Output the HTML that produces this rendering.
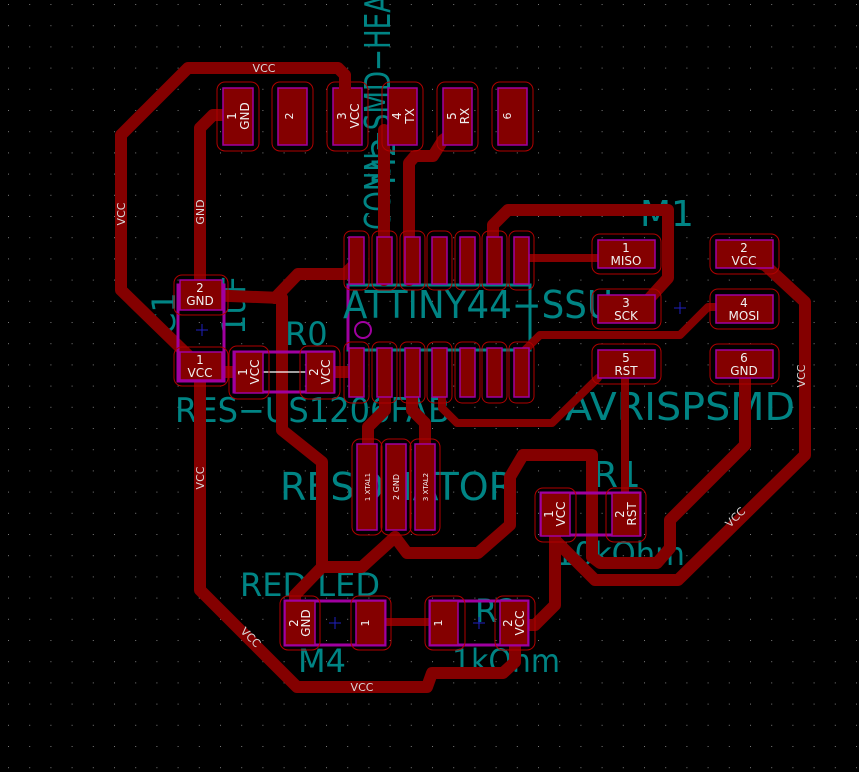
<!DOCTYPE html>
<html><head><meta charset="utf-8"><style>
html,body{margin:0;padding:0;background:#000;}
svg{display:block;}
text{font-family:"DejaVu Sans","Liberation Sans",sans-serif;}
</style></head><body>
<svg width="859" height="772" viewBox="0 0 859 772" xmlns="http://www.w3.org/2000/svg">
<defs>
<pattern id="g" x="8" y="4" width="21.2" height="21.2" patternUnits="userSpaceOnUse">
<rect x="0" y="0" width="1" height="1" fill="#7a7a7a"/>
</pattern>
</defs>
<rect width="859" height="772" fill="#000"/>
<rect width="859" height="772" fill="url(#g)"/>

<g fill="none" stroke="#008484" stroke-width="3">
<rect x="348" y="285" width="182" height="65" stroke-width="3"/>
<line x1="348" y1="285" x2="348" y2="350" stroke="#a000a0"/>
</g>
<g fill="#008484" font-family="'DejaVu Sans',sans-serif">
<text x="343" y="318" font-size="38" textLength="270" lengthAdjust="spacingAndGlyphs">ATTINY44−SSU</text>
<text x="175" y="422" font-size="34" textLength="275" lengthAdjust="spacingAndGlyphs">RES−US1206FAB</text>
<text x="280" y="500" font-size="38" textLength="235" lengthAdjust="spacingAndGlyphs">RESONATOR</text>
<text x="565" y="420" font-size="38" textLength="230" lengthAdjust="spacingAndGlyphs">AVRISPSMD</text>
<text x="640" y="226" font-size="36">M1</text>
<text x="593" y="487" font-size="36">R1</text>
<text x="555" y="565" font-size="32" textLength="130" lengthAdjust="spacingAndGlyphs">10kOhm</text>
<text x="240" y="596" font-size="32" textLength="140" lengthAdjust="spacingAndGlyphs">RED LED</text>
<text x="298" y="672" font-size="32">M4</text>
<text x="475" y="622" font-size="32">R2</text>
<text x="452" y="672" font-size="32" textLength="108" lengthAdjust="spacingAndGlyphs">1kOhm</text>
<text x="285" y="345" font-size="32">R0</text>
<text transform="translate(245,335) rotate(-90)" font-size="32">1uF</text>
<text transform="translate(175,335) rotate(-90)" font-size="32">C1</text>
<text transform="translate(390,230) rotate(-90)" font-size="36" textLength="235" lengthAdjust="spacingAndGlyphs">CONN−SMD−HEA</text>
<text transform="translate(395,185) rotate(-90)" font-size="32">M2</text>
</g>
<circle cx="363" cy="330" r="8" fill="none" stroke="#a000a0" stroke-width="2"/>

<g fill="none" stroke="#840000" stroke-width="12" stroke-linejoin="round" stroke-linecap="round">
<polyline points="345,90 345,75 338,68 188,68 121,135 121,290 195,362 200,368"/>
<polyline points="228,115 213,115 200,128 200,300"/>
<polyline points="205,295 282,298"/>
<polyline points="275,298 298,274 345,274 357,262"/>
<polyline points="282,298 282,430 322,462 322,567 362,567 395,537"/>
<polyline points="322,567 295,595 295,615"/>
<polyline points="395,537 407,553 478,553 510,525 510,477 523,455 592,455 592,557 600,563 657,563 670,548 670,520 745,445 745,365"/>
<polyline points="745,260 765,265 805,302 805,455 678,580 595,580 555,540 555,520"/>
<polyline points="555,520 555,605 535,625 518,625"/>
<polyline points="515,625 515,662 503,673 432,673 427,687 297,687 200,590 200,370"/>
<polyline points="200,372 240,372"/>
<polyline points="355,372 325,372"/>
<polyline points="384,130 384,280"/>
<polyline points="457,130 443,140 433,156 415,156 409,163 409,280"/>
<polyline points="493,245 493,225 508,210 668,210 668,278 648,300"/>
<polyline points="521,258 600,258" stroke-width="8"/>
<polyline points="523,352 540,335 680,335 708,307 720,307" stroke-width="8"/>
<polyline points="442,395 442,408 457,423 552,423 598,378" stroke-width="8"/>
<polyline points="625,365 625,515" stroke-width="8"/>
<polyline points="385,395 385,410 368,427 368,450"/>
<polyline points="412,395 412,410 425,423 425,450"/>
<polyline points="380,622 440,622" stroke-width="8"/>
</g>
<line x1="258" y1="372" x2="318" y2="372" stroke="#fff" stroke-width="1.2"/>

<g stroke-width="1.5">
<g fill="#840000" stroke="#a000a0">
<rect x="223" y="88" width="30" height="57"/><rect x="278" y="88" width="29" height="57"/>
<rect x="333" y="88" width="29" height="57"/><rect x="388" y="88" width="29" height="57"/>
<rect x="443" y="88" width="29" height="57"/><rect x="498" y="88" width="29" height="57"/>
</g>
<g fill="none" stroke="#b00000" stroke-width="1">
<rect x="217" y="82" width="42" height="69" rx="8"/><rect x="272" y="82" width="41" height="69" rx="8"/>
<rect x="327" y="82" width="41" height="69" rx="8"/><rect x="382" y="82" width="41" height="69" rx="8"/>
<rect x="437" y="82" width="41" height="69" rx="8"/><rect x="492" y="82" width="41" height="69" rx="8"/>
</g>
<g fill="#840000" stroke="#a000a0">
<rect x="349" y="237" width="15" height="47"/><rect x="377" y="237" width="15" height="47"/><rect x="405" y="237" width="15" height="47"/><rect x="432" y="237" width="15" height="47"/><rect x="460" y="237" width="15" height="47"/><rect x="487" y="237" width="15" height="47"/><rect x="514" y="237" width="15" height="47"/>
<rect x="349" y="348" width="15" height="49"/><rect x="377" y="348" width="15" height="49"/><rect x="405" y="348" width="15" height="49"/><rect x="432" y="348" width="15" height="49"/><rect x="460" y="348" width="15" height="49"/><rect x="487" y="348" width="15" height="49"/><rect x="514" y="348" width="15" height="49"/>
</g>
<g fill="none" stroke="#b00000" stroke-width="1">
<rect x="344" y="231" width="25" height="59" rx="7"/><rect x="372" y="231" width="25" height="59" rx="7"/><rect x="400" y="231" width="25" height="59" rx="7"/><rect x="427" y="231" width="25" height="59" rx="7"/><rect x="455" y="231" width="25" height="59" rx="7"/><rect x="482" y="231" width="25" height="59" rx="7"/><rect x="509" y="231" width="25" height="59" rx="7"/>
<rect x="344" y="342" width="25" height="61" rx="7"/><rect x="372" y="342" width="25" height="61" rx="7"/><rect x="400" y="342" width="25" height="61" rx="7"/><rect x="427" y="342" width="25" height="61" rx="7"/><rect x="455" y="342" width="25" height="61" rx="7"/><rect x="482" y="342" width="25" height="61" rx="7"/><rect x="509" y="342" width="25" height="61" rx="7"/>
</g>
<g fill="#840000" stroke="#a000a0">
<rect x="598" y="240" width="57" height="28"/><rect x="716" y="240" width="57" height="28"/>
<rect x="598" y="295" width="57" height="28"/><rect x="716" y="295" width="57" height="28"/>
<rect x="598" y="350" width="57" height="28"/><rect x="716" y="350" width="57" height="28"/>
</g>
<g fill="none" stroke="#b00000" stroke-width="1">
<rect x="592" y="234" width="69" height="40" rx="8"/><rect x="710" y="234" width="69" height="40" rx="8"/>
<rect x="592" y="289" width="69" height="40" rx="8"/><rect x="710" y="289" width="69" height="40" rx="8"/>
<rect x="592" y="344" width="69" height="40" rx="8"/><rect x="710" y="344" width="69" height="40" rx="8"/>
</g>
<rect x="178" y="285" width="46" height="96" fill="none" stroke="#a000a0" stroke-width="3"/>
<g fill="#840000" stroke="#a000a0"><rect x="180" y="280" width="42" height="30"/><rect x="180" y="352" width="42" height="28"/></g>
<g fill="none" stroke="#b00000" stroke-width="1"><rect x="174" y="275" width="54" height="40" rx="8"/><rect x="174" y="347" width="54" height="39" rx="8"/></g>
<rect x="234" y="352" width="100" height="40" fill="none" stroke="#a000a0" stroke-width="3"/>
<g fill="#840000" stroke="#a000a0"><rect x="235" y="352" width="28" height="41"/><rect x="306" y="352" width="28" height="41"/></g>
<g fill="none" stroke="#b00000" stroke-width="1"><rect x="229" y="346" width="40" height="53" rx="8"/><rect x="300" y="346" width="40" height="53" rx="8"/></g>
<g fill="#840000" stroke="#a000a0"><rect x="357" y="444" width="20" height="86"/><rect x="386" y="444" width="20" height="86"/><rect x="415" y="444" width="20" height="86"/></g>
<g fill="none" stroke="#b00000" stroke-width="1"><rect x="352" y="439" width="30" height="96" rx="8"/><rect x="381" y="439" width="30" height="96" rx="8"/><rect x="410" y="439" width="30" height="96" rx="8"/></g>
<rect x="541" y="493" width="99" height="42" fill="none" stroke="#a000a0" stroke-width="3"/>
<g fill="#840000" stroke="#a000a0"><rect x="541" y="493" width="29" height="43"/><rect x="612" y="493" width="28" height="43"/></g>
<g fill="none" stroke="#b00000" stroke-width="1"><rect x="535" y="488" width="41" height="54" rx="8"/><rect x="606" y="488" width="40" height="54" rx="8"/></g>
<rect x="285" y="601" width="100" height="44" fill="none" stroke="#a000a0" stroke-width="3"/>
<g fill="#840000" stroke="#a000a0"><rect x="285" y="601" width="30" height="44"/><rect x="356" y="601" width="29" height="44"/></g>
<g fill="none" stroke="#b00000" stroke-width="1"><rect x="280" y="596" width="40" height="54" rx="8"/><rect x="351" y="596" width="40" height="54" rx="8"/></g>
<rect x="430" y="601" width="98" height="44" fill="none" stroke="#a000a0" stroke-width="3"/>
<g fill="#840000" stroke="#a000a0"><rect x="430" y="601" width="28" height="44"/><rect x="500" y="601" width="28" height="44"/></g>
<g fill="none" stroke="#b00000" stroke-width="1"><rect x="425" y="596" width="40" height="54" rx="8"/><rect x="495" y="596" width="40" height="54" rx="8"/></g>
</g>

<g fill="none" stroke="#840000" stroke-width="12" stroke-linecap="round">
<line x1="345" y1="80" x2="345" y2="100"/>
</g>

<g stroke="#2020c0" stroke-width="1">
<line x1="196" y1="330" x2="208" y2="330"/><line x1="202" y1="324" x2="202" y2="336"/>
<line x1="674" y1="308" x2="686" y2="308"/><line x1="680" y1="302" x2="680" y2="314"/>
<line x1="329" y1="623" x2="341" y2="623"/><line x1="335" y1="617" x2="335" y2="629"/>
<line x1="473" y1="623" x2="485" y2="623"/><line x1="479" y1="617" x2="479" y2="629"/>
</g>

<g fill="#f0f0f0" font-size="12" text-anchor="middle">
<text x="626" y="252">1</text><text x="626" y="265">MISO</text>
<text x="744" y="252">2</text><text x="744" y="265">VCC</text>
<text x="626" y="307">3</text><text x="626" y="320">SCK</text>
<text x="744" y="307">4</text><text x="744" y="320">MOSI</text>
<text x="626" y="362">5</text><text x="626" y="375">RST</text>
<text x="744" y="362">6</text><text x="744" y="375">GND</text>
<text x="200" y="292">2</text><text x="200" y="305">GND</text>
<text x="200" y="364">1</text><text x="200" y="377">VCC</text>
</g>
<g fill="#f0f0f0" font-size="12" text-anchor="middle">
<text transform="translate(238,116) rotate(-90)"><tspan x="0" dy="-2">1</tspan><tspan x="0" dy="13">GND</tspan></text>
<text transform="translate(293,116) rotate(-90)" font-size="11">2</text>
<text transform="translate(348,116) rotate(-90)"><tspan x="0" dy="-2">3</tspan><tspan x="0" dy="13">VCC</tspan></text>
<text transform="translate(403,116) rotate(-90)"><tspan x="0" dy="-2">4</tspan><tspan x="0" dy="13">TX</tspan></text>
<text transform="translate(458,116) rotate(-90)"><tspan x="0" dy="-2">5</tspan><tspan x="0" dy="13">RX</tspan></text>
<text transform="translate(511,116) rotate(-90)" font-size="11">6</text>
<text transform="translate(249,372) rotate(-90)"><tspan x="0" dy="-2">1</tspan><tspan x="0" dy="12">VCC</tspan></text>
<text transform="translate(320,372) rotate(-90)"><tspan x="0" dy="-2">2</tspan><tspan x="0" dy="12">VCC</tspan></text>
<text transform="translate(555,514) rotate(-90)"><tspan x="0" dy="-2">1</tspan><tspan x="0" dy="12">VCC</tspan></text>
<text transform="translate(626,514) rotate(-90)"><tspan x="0" dy="-2">2</tspan><tspan x="0" dy="12">RST</tspan></text>
<text transform="translate(300,623) rotate(-90)"><tspan x="0" dy="-2">2</tspan><tspan x="0" dy="12">GND</tspan></text>
<text transform="translate(514,623) rotate(-90)"><tspan x="0" dy="-2">2</tspan><tspan x="0" dy="12">VCC</tspan></text>
<text transform="translate(369,623) rotate(-90)" font-size="11">1</text>
<text transform="translate(442,623) rotate(-90)" font-size="11">1</text>
<text transform="translate(370,487) rotate(-90)" font-size="7">1 XTAL1</text>
<text transform="translate(399,487) rotate(-90)" font-size="8">2 GND</text>
<text transform="translate(428,487) rotate(-90)" font-size="7">3 XTAL2</text>
</g>
<g fill="#d8d8d8" font-size="11" text-anchor="middle">
<text x="264" y="72">VCC</text>
<text transform="translate(125,214) rotate(-90)">VCC</text>
<text transform="translate(204,212) rotate(-90)">GND</text>
<text transform="translate(204,478) rotate(-90)">VCC</text>
<text transform="translate(805,376) rotate(-90)">VCC</text>
<text transform="translate(738,520) rotate(-45)">VCC</text>
<text transform="translate(248,640) rotate(45)">VCC</text>
<text x="362" y="691">VCC</text>
</g>
</svg>
</body></html>
